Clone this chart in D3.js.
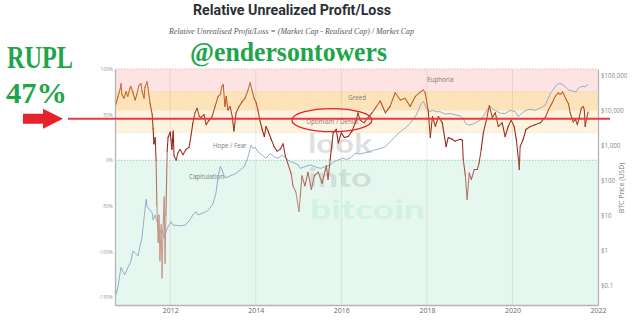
<!DOCTYPE html>
<html><head><meta charset="utf-8">
<script src="https://cdn.jsdelivr.net/npm/d3@7"></script>
<style>html,body{margin:0;padding:0;background:#fff;overflow:hidden}</style>
</head><body><svg id="c" width="640" height="322"></svg>
<script>
// ---------------- DATA ----------------
const ruplYears = [
 2010.73,2010.78,2010.83,2010.85,2010.87,2010.92,2010.97,2011.01,2011.06,2011.08,
 2011.13,2011.18,2011.22,2011.27,2011.32,2011.34,2011.39,2011.41,2011.46,2011.48,
 2011.53,2011.58,2011.60,2011.62,2011.65,2011.67,2011.69,2011.72,2011.74,2011.76,
 2011.79,2011.81,2011.83,2011.86,2011.88,2011.90,2011.93,2011.95,2012.00,2012.02,
 2012.04,2012.07,2012.09,2012.14,2012.18,2012.23,2012.30,2012.37,2012.44,2012.49,
 2012.53,2012.58,2012.63,2012.68,2012.72,2012.79,2012.84,2012.91,2012.98,2013.05,
 2013.12,2013.17,2013.21,2013.24,2013.28,2013.31,2013.35,2013.40,2013.45,2013.49,
 2013.54,2013.61,2013.68,2013.75,2013.82,2013.87,2013.91,2013.96,2014.01,2014.05,
 2014.10,2014.15,2014.20,2014.24,2014.29,2014.36,2014.43,2014.50,2014.57,2014.64,
 2014.69,2014.76,2014.83,2014.87,2014.94,2015.01,2015.04,2015.08,2015.15,2015.22,
 2015.30,2015.37,2015.46,2015.55,2015.65,2015.69,2015.74,2015.81,2015.88,2015.93,
 2016.00,2016.07,2016.16,2016.25,2016.35,2016.39,2016.44,2016.53,2016.63,2016.72,
 2016.82,2016.91,2017.03,2017.14,2017.26,2017.38,2017.49,2017.61,2017.73,2017.85,
 2017.92,2017.96,2018.03,2018.08,2018.13,2018.20,2018.27,2018.36,2018.45,2018.50,
 2018.59,2018.66,2018.78,2018.83,2018.85,2018.90,2018.94,2018.99,2019.04,2019.11,
 2019.18,2019.22,2019.27,2019.32,2019.39,2019.46,2019.53,2019.60,2019.67,2019.76,
 2019.83,2019.90,2019.97,2020.04,2020.09,2020.14,2020.16,2020.18,2020.25,2020.32,
 2020.42,2020.53,2020.65,2020.77,2020.84,2020.93,2021.00,2021.07,2021.12,2021.17,
 2021.26,2021.31,2021.35,2021.42,2021.47,2021.52,2021.56,2021.61,2021.66,2021.68,
 2021.70,2021.73,2021.77
];
const ruplValues = [
 61,70,78,84,72,68,75,70,79,81,
 74,66,72,82,84,76,68,80,86,80,
 62,50,35,18,25,0,-50,-90,-60,-110,
 -70,-129,-80,-40,-113,-60,10,25,31,22,
 12,32,5,0,8,12,6,12,14,28,
 41,52,57,48,47,50,39,44,48,59,
 70,72,81,83,59,70,55,59,48,32,
 52,59,64,68,77,85,77,68,63,55,
 43,34,26,37,32,23,15,10,12,18,
 5,-5,-15,-28,-35,-56,-40,-17,-28,-13,
 -32,-17,-13,-25,-6,-21,1,30,34,19,
 30,25,26,32,44,52,44,41,47,52,
 59,65,52,59,74,66,68,59,70,75,
 77,74,55,25,48,37,48,41,15,25,
 23,21,23,22,1,-17,-43,-14,-21,-10,
 -10,-3,12,30,44,60,47,52,37,41,
 26,37,44,37,23,1,-10,15,23,34,
 37,39,41,47,55,63,70,74,72,75,
 66,62,52,42,45,39,47,57,59,55,
 37,45,53
];
const priceYears = [
 2010.73,2010.78,2010.85,2010.90,2010.94,2011.01,2011.08,2011.13,2011.18,2011.25,
 2011.29,2011.34,2011.38,2011.41,2011.44,2011.46,2011.53,2011.58,2011.60,2011.65,
 2011.69,2011.74,2011.79,2011.81,2011.86,2011.90,2011.95,2012.02,2012.07,2012.14,
 2012.23,2012.35,2012.46,2012.53,2012.60,2012.65,2012.75,2012.84,2012.93,2013.00,
 2013.07,2013.12,2013.17,2013.21,2013.28,2013.35,2013.45,2013.54,2013.63,2013.73,
 2013.82,2013.87,2013.89,2013.94,2013.98,2014.05,2014.15,2014.24,2014.34,2014.43,
 2014.52,2014.62,2014.71,2014.80,2014.90,2014.99,2015.04,2015.15,2015.27,2015.39,
 2015.51,2015.62,2015.74,2015.83,2015.93,2016.02,2016.11,2016.21,2016.32,2016.44,
 2016.56,2016.67,2016.79,2016.91,2017.03,2017.14,2017.26,2017.38,2017.49,2017.61,
 2017.73,2017.80,2017.87,2017.92,2017.99,2018.06,2018.13,2018.22,2018.31,2018.43,
 2018.55,2018.66,2018.78,2018.85,2018.90,2018.97,2019.06,2019.15,2019.25,2019.34,
 2019.44,2019.48,2019.55,2019.65,2019.74,2019.83,2019.95,2020.07,2020.14,2020.21,
 2020.32,2020.42,2020.53,2020.65,2020.77,2020.89,2020.96,2021.03,2021.10,2021.17,
 2021.24,2021.31,2021.40,2021.49,2021.54,2021.63,2021.70,2021.77
];
const priceValues = [
 0.052,0.091,0.33,0.24,0.20,0.32,0.47,0.95,0.85,0.69,
 1.26,2.24,6.6,14.1,28.8,17.8,14.1,11.5,7.4,10.2,
 6.6,4.7,3.1,3.8,2.2,3.4,4.7,6.6,5.2,5.2,
 5.0,5.2,7.4,10.2,12.6,10.2,11.5,12.6,15.8,21.9,
 42.7,126,251,200,117,126,141,158,195,245,
 468,813,1000,794,891,661,525,427,589,468,
 427,525,417,339,316,275,219,245,275,245,
 219,245,275,339,380,427,398,427,589,562,
 617,661,741,813,912,1259,1778,2455,3090,4266,
 6607,10000,15850,17780,11480,9120,10000,9120,9120,7760,
 8130,7410,6920,5890,4270,3800,3980,4470,5250,7410,
 11480,12590,10720,9120,8130,8130,10000,9120,6610,8130,
 10000,10720,10000,11480,14130,30900,39810,52480,58880,54950,
 46770,38020,35480,33880,42660,48980,46770,56230
];
const zoneNames = ["Euphoria","Greed","Optimism / Denial","Hope / Fear","Capitulation"];
const zoneTop = [100,75,55,30,0];
const zoneBottom = [75,55,30,0,-158.5];
const xTicks = [2012,2014,2016,2018,2020,2022];
const yTicks = [100,50,0,-50,-100,-150];
const priceTicks = [0.1,1,10,100,1000,10000,100000];
const currentRupl = 45.5;

// ---------------- STYLE / LAYOUT ----------------
const zoneColors = ["#fde3e4","#fde3ba","#fef3df","#ffffff","#e6f7ef"];
const zoneLabelPos = [[2018.01,86],[2016.16,66.4],[2015.18,40],[2013.0,14],[2012.44,-20]];
const X0=115, X1=598, Y0=69, Y1=305;
const GREEN = "#1fa64a", RED = "#e8222b";

const svg = d3.select("#c");
const x = d3.scaleLinear().domain([2010.71, 2022]).range([X0, X1]);
const y = d3.scaleLinear().domain([-158.5, 100]).range([Y1, Y0]);
const yp = d3.scaleLog().domain([Math.pow(10,-1.563), Math.pow(10,5.18)]).range([Y1, Y0]);

svg.append("defs").append("clipPath").attr("id","clip")
  .append("rect").attr("x",X0).attr("y",Y0).attr("width",X1-X0).attr("height",Y1-Y0);

// zone bands
svg.append("g").selectAll("rect").data(zoneNames).join("rect")
  .attr("x",X0).attr("width",X1-X0)
  .attr("y",(d,i)=>y(zoneTop[i])).attr("height",(d,i)=>y(zoneBottom[i])-y(zoneTop[i]))
  .attr("fill",(d,i)=>zoneColors[i]);

// dotted boundaries
const dotted = [[100,"#f3b9bb"],[75,"#f7cfa0"],[55,"#f9dcae"],[30,"#fbe6c8"],[0,"#93d5ad"]];
svg.append("g").selectAll("line").data(dotted).join("line")
  .attr("x1",X0).attr("x2",X1).attr("y1",d=>y(d[0])).attr("y2",d=>y(d[0]))
  .attr("stroke",d=>d[1]).attr("stroke-width",1).attr("stroke-dasharray","1.5,1.5");

// vertical gridlines
svg.append("g").selectAll("line").data(xTicks.filter(t=>t<2022)).join("line")
  .attr("x1",d=>x(d)).attr("x2",d=>x(d)).attr("y1",Y0).attr("y2",Y1)
  .attr("stroke","#000").attr("stroke-opacity",0.08).attr("stroke-width",1);

// watermark
const wm = svg.append("g").attr("font-family","Lato").attr("font-weight",900).attr("font-size",26);
wm.append("text").attr("x",308).attr("y",153).attr("textLength",64).attr("lengthAdjust","spacingAndGlyphs")
  .attr("fill","#000").attr("fill-opacity",0.12).text("look");
wm.append("text").attr("x",308).attr("y",187).attr("textLength",64).attr("lengthAdjust","spacingAndGlyphs")
  .attr("fill","#000").attr("fill-opacity",0.10).text("into");
wm.append("text").attr("x",310).attr("y",219).attr("textLength",115).attr("lengthAdjust","spacingAndGlyphs")
  .attr("fill","#3ad27c").attr("fill-opacity",0.12).text("bitcoin");

// zone labels
svg.append("g").selectAll("text").data(zoneNames).join("text")
  .attr("x",(d,i)=>x(zoneLabelPos[i][0])).attr("y",(d,i)=>y(zoneLabelPos[i][1]))
  .attr("font-family","Open Sans").attr("font-size",6.2).attr("fill","#7a7a7a").text(d=>d);

// BTC price line
const price = priceYears.map((t,i)=>({t, p: priceValues[i]}));
svg.append("path").datum(price).attr("clip-path","url(#clip)")
  .attr("d", d3.line().x(d=>x(d.t)).y(d=>yp(d.p)))
  .attr("fill","none").attr("stroke","#7e9bc0").attr("stroke-width",0.8);

// RUPL line, coloured by value
const rupl = ruplYears.map((t,i)=>({t, v: ruplValues[i]}));
const col = d3.scaleLinear().domain([-130,-40,-5,25,45,80])
  .range(["#caa898","#c08678","#a54a3c","#8e1a12","#a3381a","#c8702f"]).clamp(true);
svg.append("g").attr("clip-path","url(#clip)").selectAll("line").data(d3.pairs(rupl)).join("line")
  .attr("x1",d=>x(d[0].t)).attr("y1",d=>y(d[0].v))
  .attr("x2",d=>x(d[1].t)).attr("y2",d=>y(d[1].v))
  .attr("stroke",d=>col((d[0].v+d[1].v)/2)).attr("stroke-width",1.05).attr("stroke-linecap","round");

// axes
const axStyle = (g, size, fill) => {
  g.selectAll("text").attr("font-family","Open Sans").attr("font-size",size).attr("fill",fill);
  g.select(".domain").attr("stroke","#b4b4b4").attr("stroke-width",1.3);
};
svg.append("g").attr("transform",`translate(0,${Y1})`)
  .call(d3.axisBottom(x).tickValues(xTicks).tickFormat(d3.format("d")).tickSize(0).tickPadding(3))
  .call(g=>axStyle(g,7,"#666"));
svg.append("g").attr("transform",`translate(${X0},0)`)
  .call(d3.axisLeft(y).tickValues(yTicks).tickFormat(d=>`${d}%`).tickSize(0).tickPadding(2))
  .call(g=>axStyle(g,5,"#999"));
svg.append("g").attr("transform",`translate(${X1},0)`)
  .call(d3.axisRight(yp).tickValues(priceTicks).tickFormat(d=>"$"+d3.format(",")(d)).tickSize(0).tickPadding(3))
  .call(g=>axStyle(g,6.2,"#888"));
svg.append("text").attr("transform",`translate(624,188) rotate(-90)`).attr("text-anchor","middle")
  .attr("font-family","Open Sans").attr("font-size",7).attr("fill","#777").text("BTC Price (USD)");

// titles
svg.append("text").attr("x",193).attr("y",15).attr("textLength",198).attr("lengthAdjust","spacingAndGlyphs")
  .attr("font-family","Roboto").attr("font-weight",700).attr("font-size",15.5).attr("fill","#2b2f36")
  .text("Relative Unrealized Profit/Loss");
svg.append("text").attr("x",169).attr("y",34).attr("textLength",245).attr("lengthAdjust","spacingAndGlyphs")
  .attr("font-family","Liberation Serif").attr("font-style","italic").attr("font-size",8.5).attr("fill","#555")
  .text("Relative Unrealised Profit/Loss = (Market Cap - Realised Cap) / Market Cap");

// annotations
const ann = svg.append("g").attr("font-family","Liberation Serif").attr("font-weight",700).attr("fill",GREEN);
ann.append("text").attr("x",190).attr("y",61).attr("font-size",28).attr("textLength",197)
  .attr("lengthAdjust","spacingAndGlyphs").text("@endersontowers");
ann.append("text").attr("x",7).attr("y",68).attr("font-size",32).attr("textLength",66)
  .attr("lengthAdjust","spacingAndGlyphs").text("RUPL");
ann.append("text").attr("x",6).attr("y",103).attr("font-size",30).attr("textLength",61)
  .attr("lengthAdjust","spacingAndGlyphs").text("47%");

svg.append("line").attr("x1",68).attr("x2",610).attr("y1",y(currentRupl)).attr("y2",y(currentRupl))
  .attr("stroke","#ea3a40").attr("stroke-width",2);
const ay = y(currentRupl);
svg.append("path").attr("d",`M23,${ay-5}H43V${ay-10}L63,${ay}L43,${ay+10}V${ay+5}H23Z`).attr("fill",RED);
svg.append("ellipse").attr("cx",x(2015.78)).attr("cy",y(44)).attr("rx",40).attr("ry",11.5)
  .attr("fill","none").attr("stroke",RED).attr("stroke-width",1.3);
</script></body></html>
